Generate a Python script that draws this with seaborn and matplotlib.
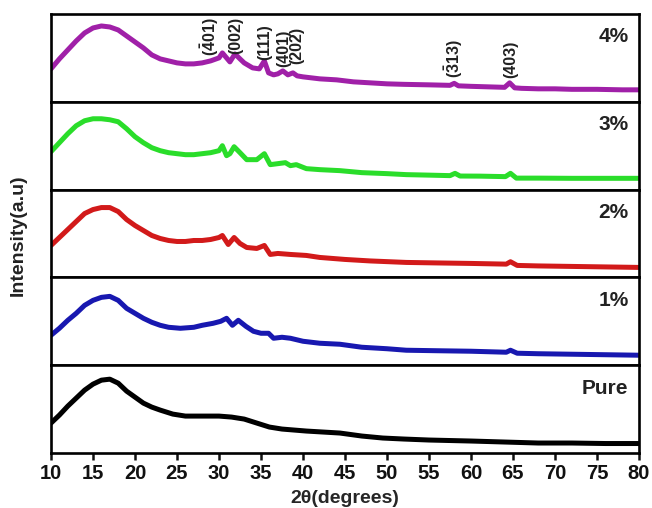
import numpy as np
import pandas as pd
import matplotlib
matplotlib.use("Agg")
import matplotlib.pyplot as plt
import seaborn as sns

# ---------------- data ----------------
two_theta_4 = [10, 11, 12, 13, 14, 15, 16, 17, 18, 19, 20, 21, 22, 23, 24, 25, 26, 27, 28, 29,
               30, 30.4, 30.9, 31.3, 31.9, 32.5, 33, 34, 34.8, 35.4, 35.9, 36.5, 37, 37.6, 38.2,
               38.8, 39.3, 40, 42, 44, 46, 48, 50, 52, 55, 57.5, 58, 58.5, 60, 62, 64, 64.6, 65.2,
               66, 68, 70, 72, 75, 78, 80]
intensity_4 = [33, 43, 52, 61, 69, 74, 76, 75, 72, 66, 60, 54, 47, 43, 41, 39, 38, 38, 39, 41,
               44, 49, 44, 40, 48, 43, 39, 34, 33, 41, 29, 27, 28, 31, 27, 29, 26, 25, 23, 22,
               20, 19, 18, 17.5, 17, 16.5, 18.5, 16, 15.5, 15, 14.5, 19, 14, 13.5, 13, 13, 12.5,
               12.5, 12, 12]

two_theta_3 = [10, 11, 12, 13, 14, 15, 16, 17, 18, 19, 20, 21, 22, 23, 24, 25, 26, 27, 28, 29,
               30, 30.4, 30.9, 31.3, 31.8, 32.5, 33.3, 34.5, 35.4, 36.1, 37, 37.9, 38.5, 39.2,
               40.4, 42, 44.4, 47, 50, 52.3, 55, 57.5, 58.1, 58.7, 61, 64.1, 64.7, 65.4, 68, 72,
               76, 80]
intensity_3 = [38, 47, 56, 64, 69, 71, 71, 70, 68, 61, 53, 47, 42, 39, 37, 36, 35, 35, 36, 37,
               39, 44, 34, 36, 43, 37, 30, 30, 36, 25, 26, 27, 24, 25, 21, 20, 19, 17, 16, 15,
               14.5, 14, 16.3, 13.6, 13.5, 13, 16.3, 11.5, 11.5, 11.3, 11.3, 11.3]

two_theta_2 = [10, 11, 12, 13, 14, 15, 16, 17, 18, 19, 20, 21, 22, 23, 24, 25, 26, 27, 28, 29,
               30, 30.4, 31.1, 31.8, 32.5, 33.3, 34.5, 35.4, 36.1, 37, 38.5, 40.4, 42, 45, 48,
               52.3, 56, 60, 64.2, 64.7, 65.5, 68, 72, 76, 80]
intensity_2 = [32, 40, 48, 56, 64, 68, 70, 70, 66, 58, 52, 47, 42, 39, 37, 36, 36, 37, 37, 38,
               40, 42, 33, 40, 34, 30, 29, 32, 23, 24, 23, 22, 20, 18, 16.5, 15, 14.5, 14, 13.3,
               15.7, 12, 11.5, 11, 10.5, 10]

two_theta_1 = [10, 11, 12, 13, 14, 15, 16, 17, 18, 19, 20, 21, 22, 23, 24, 25.4, 27, 28, 29.3,
               30.2, 30.9, 31.6, 32.3, 33.2, 34.1, 35, 35.9, 36.5, 37.5, 38.5, 40, 42, 44.4, 47,
               50, 52.3, 56, 60, 64.2, 64.7, 65.5, 68, 72, 76, 80]
intensity_1 = [30, 37, 45, 52, 60, 65, 68, 69, 65, 57, 52, 47, 43, 40, 38, 37, 38, 40, 42, 44,
               47, 40, 45, 39, 34, 32, 32, 27, 28, 27, 24, 22, 21, 18, 16.5, 15, 14.5, 14, 13,
               15, 12, 11.5, 11, 10.5, 10]

two_theta_pure = [10, 11, 12, 13, 14, 15, 16, 17, 18, 19, 20, 21, 22, 23, 24.5, 26, 28, 30, 31.5,
                  33, 34.5, 36, 37.5, 40.4, 44.4, 47, 49.5, 52, 55, 60, 64, 68, 72, 76, 80]
intensity_pure = [30, 38, 47, 55, 63, 69, 73, 74, 70, 62, 56, 50, 46, 43, 39, 37, 37, 37, 36,
                  34, 30, 26, 24, 22, 20, 17, 15, 14, 13, 12, 11, 10, 10, 9.5, 9.5]

sample_labels = ["4%", "3%", "2%", "1%", "Pure"]
line_colors = ["#a020a8", "#2add2a", "#d21a1a", "#1818b0", "#000000"]

peak_labels = [r"$\mathbf{(\bar{4}01)}$", "(002)", "(111)", "(401)", "(202)",
               r"$\mathbf{(\bar{3}13)}$", "(403)"]
peak_positions = [28.9, 32.0, 35.5, 37.7, 39.3, 57.9, 64.7]
peak_label_heights = [46, 48, 42, 35, 38, 24, 24]

x_ticks = list(range(10, 81, 5))

# ---------------- styling ----------------
sns.set_style("white")
plt.rcParams["font.family"] = ["Liberation Sans", "DejaVu Sans"]
plt.rcParams["font.weight"] = "bold"
plt.rcParams["mathtext.fontset"] = "custom"
plt.rcParams["mathtext.rm"] = "Liberation Sans:bold"
plt.rcParams["mathtext.bf"] = "Liberation Sans:bold"

series = [
    (two_theta_4, intensity_4),
    (two_theta_3, intensity_3),
    (two_theta_2, intensity_2),
    (two_theta_1, intensity_1),
    (two_theta_pure, intensity_pure),
]

fig = plt.figure(figsize=(6.52, 5.08), dpi=100)
gs = fig.add_gridspec(5, 1, left=51 / 652, right=639 / 652, top=1 - 14 / 508,
                      bottom=1 - 453 / 508, hspace=0)
axes = [fig.add_subplot(gs[i, 0]) for i in range(5)]

for i, ax in enumerate(axes):
    xs, ys = series[i]
    df = pd.DataFrame({"two_theta": xs, "intensity": ys})
    sns.lineplot(data=df, x="two_theta", y="intensity", ax=ax, color=line_colors[i],
                 linewidth=3.6, sort=True, estimator=None)
    ax.set_xlim(10, 80)
    ax.set_ylim(0, 88)
    ax.set_yticks([])
    ax.set_xlabel("")
    ax.set_ylabel("")
    for sp in ax.spines.values():
        sp.set_linewidth(1.9)
        sp.set_color("black")
        sp.set_visible(True)
    ax.text(0.982, 0.74, sample_labels[i], transform=ax.transAxes, ha="right", va="center",
            fontsize=15, fontweight="bold", color="#222222")
    if i < 4:
        ax.set_xticks([])
    else:
        ax.set_xticks(x_ticks)
        ax.set_xticklabels([str(t) for t in x_ticks], fontsize=14.5, fontweight="bold")
        ax.tick_params(axis="x", direction="out", length=5, width=1.8, pad=3, bottom=True,
                       colors="#111111")

top = axes[0]
for lab, px, py in zip(peak_labels, peak_positions, peak_label_heights):
    top.text(px, py, lab, rotation=90, ha="center", va="bottom", fontsize=11.5,
             fontweight="bold", color="#222222", clip_on=False)

axes[-1].set_xlabel("2θ(degrees)", fontsize=14, fontweight="bold", labelpad=5)
fig.text(18 / 652, 1 - 235 / 508, "Intensity(a.u)", rotation=90, ha="center", va="center",
         fontsize=14, fontweight="bold", color="#222222")

fig.savefig("out.png", dpi=100)
